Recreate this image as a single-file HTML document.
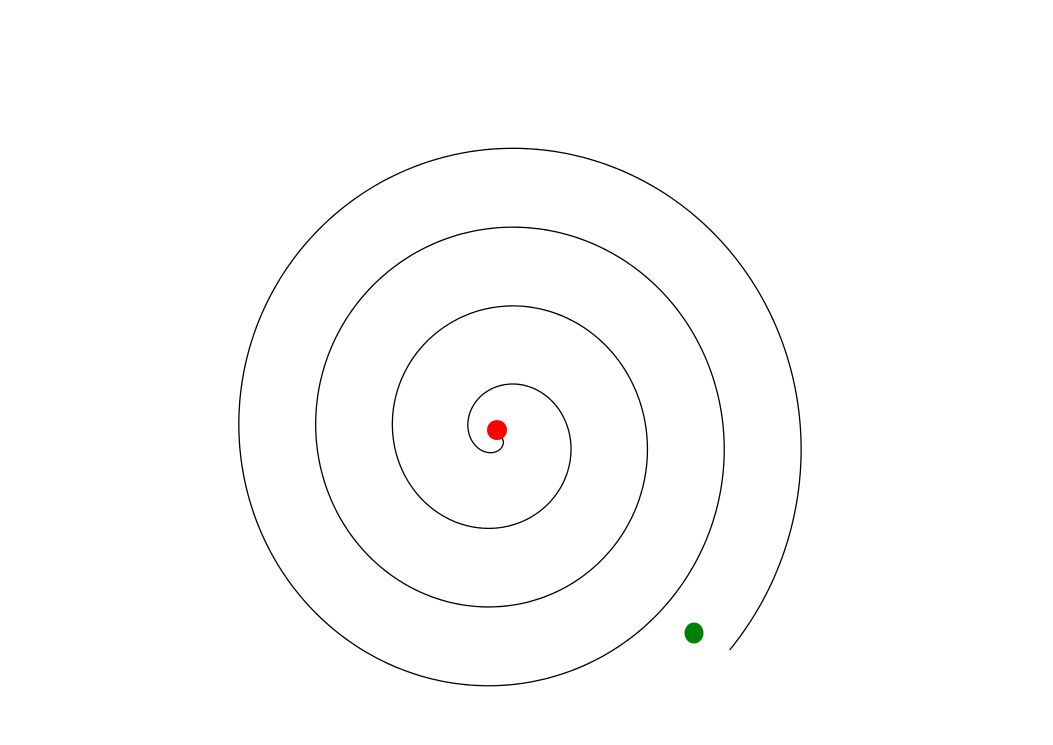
<!DOCTYPE html>
<html><head><meta charset="utf-8"><style>
html,body{margin:0;padding:0;background:#fff;}
svg{display:block;}
</style></head><body>
<svg id="chart" width="1053" height="745" viewBox="0 0 1053 745">
<path id="spiral" fill="none" stroke="#000" stroke-width="1.3"></path>
<g id="markers"></g>
</svg>
<script>
// spiral parameters: r = spiralA + spiralB * theta
const spiralA = [-7.75];
const spiralB = [12.25];
const thetaRange = [0.7, 25.87];
// marker points in data (pixel-space) coordinates: [x, y]
const startPoint = [497, 430];
const endPoint = [694, 633];

const cx = 500.75, cy = 436.75, sy = 1.026;
function xScale(r, t){ return cx + r*Math.cos(t); }
function yScale(r, t){ return cy + sy*r*Math.sin(t); }

let d = '';
const n = 1200;
for (let i = 0; i <= n; i++) {
  const t = thetaRange[0] + (thetaRange[1]-thetaRange[0])*i/n;
  const r = spiralA[0] + spiralB[0]*t;
  d += (i ? 'L' : 'M') + xScale(r,t).toFixed(2) + ' ' + yScale(r,t).toFixed(2);
}
document.getElementById('spiral').setAttribute('d', d);

const g = document.getElementById('markers');
const NS = 'http://www.w3.org/2000/svg';
const s = document.createElementNS(NS, 'ellipse');
s.setAttribute('cx', startPoint[0]); s.setAttribute('cy', startPoint[1]);
s.setAttribute('rx', 10); s.setAttribute('ry', 10); s.setAttribute('fill', '#ff0000');


g.appendChild(s);
const e = document.createElementNS(NS, 'ellipse');
e.setAttribute('cx', endPoint[0]); e.setAttribute('cy', endPoint[1]);
e.setAttribute('rx', 9.5); e.setAttribute('ry', 10.5); e.setAttribute('fill', '#008000');


g.appendChild(e);
</script>
</body></html>
